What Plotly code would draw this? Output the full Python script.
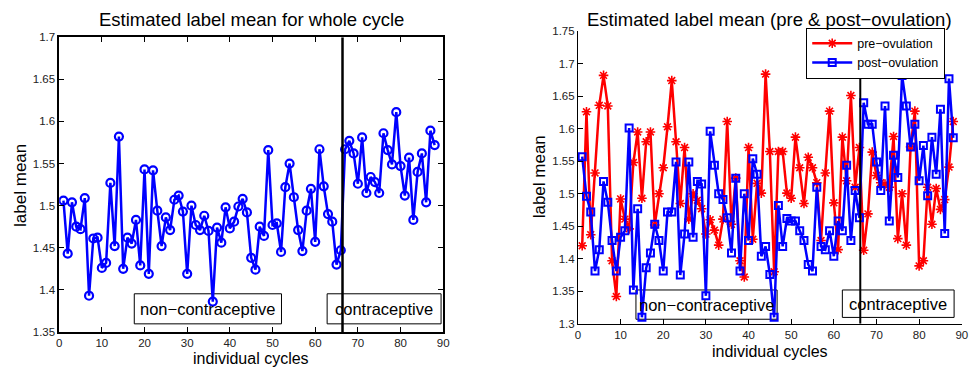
import plotly.graph_objects as go

# ---------------- data ----------------
cycles = list(range(1, 89))

whole_mean = [
    1.506, 1.443, 1.504, 1.475, 1.472, 1.509, 1.393, 1.461, 1.462, 1.426,
    1.432, 1.527, 1.452, 1.582, 1.425, 1.462, 1.455, 1.483, 1.429, 1.543,
    1.419, 1.542, 1.494, 1.452, 1.486, 1.471, 1.507, 1.512, 1.493, 1.419,
    1.500, 1.477, 1.471, 1.488, 1.470, 1.386, 1.474, 1.456, 1.498, 1.473,
    1.481, 1.499, 1.508, 1.492, 1.438, 1.424, 1.475, 1.464, 1.566, 1.477,
    1.479, 1.445, 1.522, 1.550, 1.510, 1.471, 1.446, 1.494, 1.520, 1.457,
    1.567, 1.523, 1.490, 1.481, 1.430, 1.447, 1.567, 1.577, 1.562, 1.526,
    1.581, 1.515, 1.534, 1.528, 1.515, 1.586, 1.566, 1.549, 1.611, 1.547,
    1.512, 1.557, 1.483, 1.540, 1.562, 1.504, 1.589, 1.572,
]

pre_mean = [
    1.420, 1.626, 1.437, 1.532, 1.636, 1.682, 1.635, 1.397, 1.342, 1.492,
    1.461, 1.446, 1.548, 1.595, 1.493, 1.580, 1.595, 1.452, 1.500, 1.540,
    1.603, 1.674, 1.580, 1.485, 1.571, 1.461, 1.500, 1.490, 1.477, 1.438,
    1.460, 1.444, 1.421, 1.461, 1.611, 1.453, 1.524, 1.397, 1.372, 1.571,
    1.430, 1.516, 1.501, 1.684, 1.565, 1.380, 1.565, 1.565, 1.501, 1.493,
    1.587, 1.540, 1.485, 1.556, 1.540, 1.517, 1.428, 1.532, 1.627, 1.486,
    1.414, 1.587, 1.520, 1.651, 1.510, 1.571, 1.413, 1.469, 1.564, 1.528,
    1.517, 1.515, 1.510, 1.588, 1.431, 1.500, 1.421, 1.572, 1.627, 1.389,
    1.397, 1.510, 1.453, 1.508, 1.476, 1.491, 1.541, 1.611,
]

post_mean = [
    1.557, 1.496, 1.472, 1.381, 1.414, 1.519, 1.487, 1.428, 1.381, 1.433,
    1.443, 1.601, 1.352, 1.477, 1.310, 1.386, 1.409, 1.453, 1.428, 1.381,
    1.472, 1.472, 1.549, 1.375, 1.438, 1.549, 1.433, 1.519, 1.515, 1.343,
    1.596, 1.544, 1.500, 1.491, 1.463, 1.409, 1.524, 1.381, 1.500, 1.428,
    1.554, 1.530, 1.404, 1.419, 1.376, 1.310, 1.482, 1.419, 1.462, 1.458,
    1.458, 1.443, 1.428, 1.391, 1.381, 1.510, 1.419, 1.414, 1.443, 1.404,
    1.458, 1.443, 1.544, 1.428, 1.505, 1.463, 1.640, 1.607, 1.607, 1.549,
    1.505, 1.635, 1.458, 1.559, 1.525, 1.682, 1.635, 1.572, 1.607, 1.520,
    1.574, 1.497, 1.587, 1.530, 1.630, 1.439, 1.677, 1.586,
]

split_left = 66.4
split_right = 66.2

x_ticks = [0, 10, 20, 30, 40, 50, 60, 70, 80, 90]
y_ticks_left = [1.35, 1.4, 1.45, 1.5, 1.55, 1.6, 1.65, 1.7]
y_ticks_right = [1.3, 1.35, 1.4, 1.45, 1.5, 1.55, 1.6, 1.65, 1.7, 1.75]

FONT = "Liberation Sans, Arial, sans-serif"
W, H = 976, 375

fig = go.Figure()

fig.add_trace(go.Scatter(
    x=cycles, y=whole_mean, mode="lines+markers", showlegend=False,
    line=dict(color="#0000ff", width=2.5),
    marker=dict(symbol="circle-open", size=8, color="#0000ff", line=dict(width=2.2)),
    xaxis="x", yaxis="y",
))
fig.add_trace(go.Scatter(
    x=cycles, y=pre_mean, mode="lines+markers", name="pre−ovulation",
    line=dict(color="#ff0000", width=2.5),
    marker=dict(symbol="asterisk-open", size=8, color="#ff0000", line=dict(width=1.6, color="#ff0000")),
    xaxis="x2", yaxis="y2",
))
fig.add_trace(go.Scatter(
    x=cycles, y=post_mean, mode="lines+markers", name="post−ovulation",
    line=dict(color="#0000ff", width=2.5),
    marker=dict(symbol="square-open", size=7, color="#0000ff", line=dict(width=2)),
    xaxis="x2", yaxis="y2",
))

# plot area positions (pixels)
L = (56.7, 444.3, 32.3, 336.7)   # x0, x1, ytop, ybottom
R = (580.3, 967.7, 26.0, 328.3)

def dom_x(a, b):
    return [a / W, b / W]

def dom_y(top, bot):
    return [1 - bot / H, 1 - top / H]

axis_common = dict(
    ticks="inside", ticklen=5, tickcolor="black", showgrid=False, zeroline=False,
    showline=True, linecolor="black",
    tickfont=dict(family=FONT, size=11.5, color="#222"),
)

fig.update_layout(
    width=W, height=H, margin=dict(l=0, r=0, t=0, b=0),
    paper_bgcolor="white", plot_bgcolor="white",
    font=dict(family=FONT, color="black"),
    xaxis=dict(domain=dom_x(L[0], L[1]), range=[0, 90], tickvals=x_ticks, mirror="ticks",
               linewidth=1.5, anchor="y", **axis_common),
    yaxis=dict(domain=dom_y(L[2], L[3]), range=[1.35, 1.7], tickvals=y_ticks_left,
               ticktext=[f"{v:g}" for v in y_ticks_left], mirror="ticks",
               linewidth=1.5, anchor="x", **axis_common),
    xaxis2=dict(domain=dom_x(R[0], R[1]), range=[0, 90], tickvals=x_ticks, mirror=False,
                linewidth=1, anchor="y2", **axis_common),
    yaxis2=dict(domain=dom_y(R[2], R[3]), range=[1.3, 1.75], tickvals=y_ticks_right,
                ticktext=[f"{v:g}" for v in y_ticks_right], mirror=False,
                linewidth=1, anchor="x2", **axis_common),
    legend=dict(x=810.7 / W, y=1 - 22.3 / H, xanchor="left", yanchor="top",
                bgcolor="white", bordercolor="black", borderwidth=1,
                font=dict(family=FONT, size=12.5, color="black"),
                itemwidth=40),
)

shapes = [
    # text boxes (below data)
    dict(type="rect", xref="x", yref="y", x0=17.6, x1=52.1, y0=1.3596, y1=1.3953,
         line=dict(color="black", width=1), fillcolor="white", layer="below"),
    dict(type="rect", xref="x", yref="y", x0=62.8, x1=89.5, y0=1.3596, y1=1.3953,
         line=dict(color="black", width=1), fillcolor="white", layer="below"),
    dict(type="rect", xref="x2", yref="y2", x0=13.6, x1=46.7, y0=1.307, y1=1.352,
         line=dict(color="black", width=1), fillcolor="white", layer="below"),
    dict(type="rect", xref="x2", yref="y2", x0=62.0, x1=88.2, y0=1.3098, y1=1.352,
         line=dict(color="black", width=1), fillcolor="white", layer="below"),
    # split lines
    dict(type="line", xref="x", yref="y", x0=split_left, x1=split_left, y0=1.35, y1=1.7,
         line=dict(color="black", width=2.5), layer="above"),
    dict(type="line", xref="x2", yref="y2", x0=split_right, x1=split_right, y0=1.3, y1=1.75,
         line=dict(color="black", width=2), layer="above"),
]
fig.update_layout(shapes=shapes)

ann = []
def txt(text, x, y, size, xref="x", yref="y", angle=0, xanchor="center"):
    ann.append(dict(text=text, x=x, y=y, xref=xref, yref=yref, showarrow=False,
                    font=dict(family=FONT, size=size, color="black"), textangle=angle,
                    xanchor=xanchor, yanchor="middle", borderpad=0))

# box labels
txt("non−contraceptive", (17.6 + 52.1) / 2, (1.3596 + 1.3953) / 2, 16.5)
txt("contraceptive", (62.8 + 89.5) / 2, (1.3596 + 1.3953) / 2, 16.5)
txt("non−contraceptive", (13.6 + 46.7) / 2, (1.307 + 1.352) / 2, 16.5, "x2", "y2")
txt("contraceptive", (62.0 + 88.2) / 2, (1.3098 + 1.352) / 2, 16.5, "x2", "y2")

# titles and axis titles (paper coords)
txt("Estimated label mean for whole cycle", 250.5 / W, 1 - 14 / H, 18.5, "paper", "paper")
txt("Estimated label mean (pre &amp; post−ovulation)", 774 / W, 1 - 14 / H, 18.5, "paper", "paper")
txt("label mean", 17 / W, 1 - 185 / H, 17, "paper", "paper", angle=-90)
txt("label mean", 541 / W, 1 - 177 / H, 17, "paper", "paper", angle=-90)
txt("individual cycles", 250.5 / W, 1 - 364 / H, 16, "paper", "paper")
txt("individual cycles", 774 / W, 1 - 357 / H, 16, "paper", "paper")
fig.update_layout(annotations=ann)

fig.write_html("out.html")
